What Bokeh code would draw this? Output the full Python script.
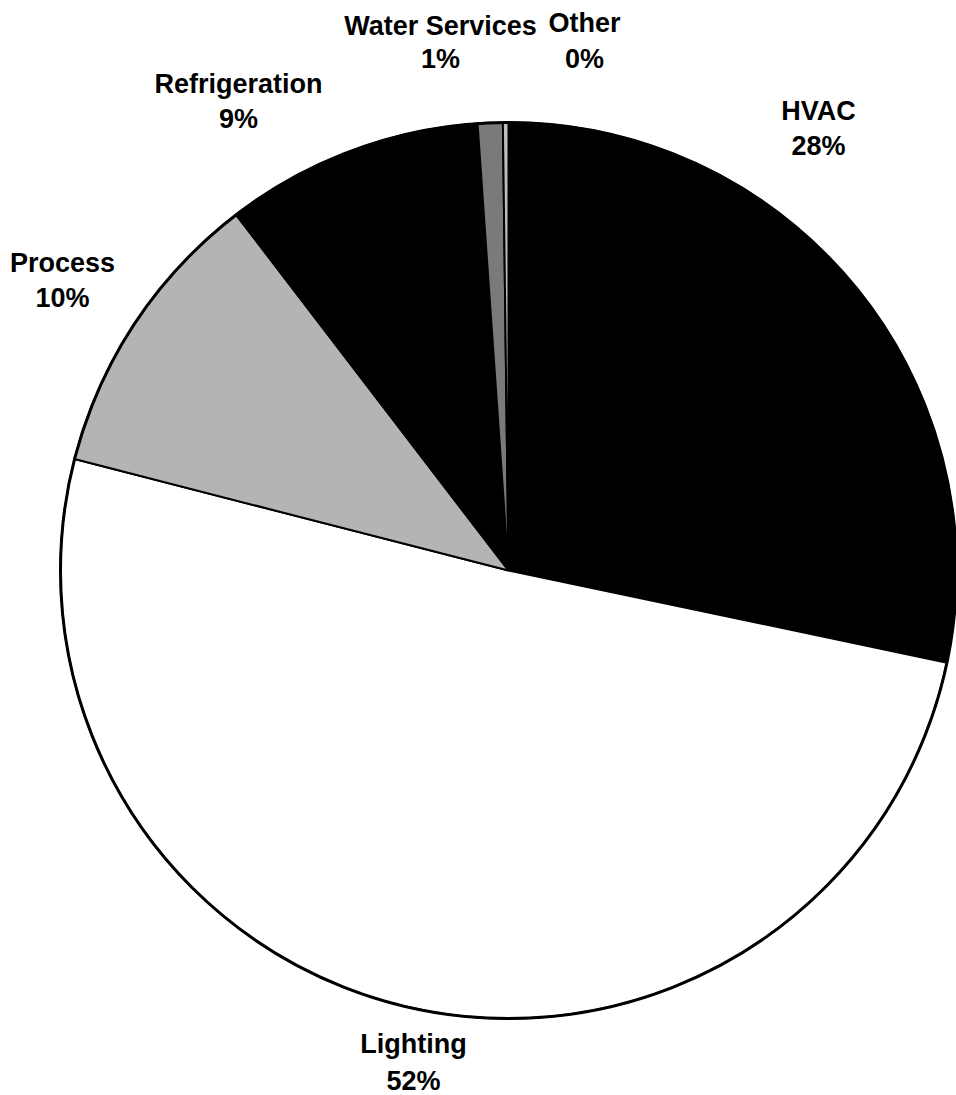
import numpy as np
from bokeh.plotting import figure
from bokeh.models import ColumnDataSource, Range1d
from bokeh.core.properties import value
from bokeh.embed import file_html
from bokeh.resources import INLINE

# ---- data ----
categories = ["HVAC", "Lighting", "Process", "Refrigeration", "Water Services", "Other"]
shares = [28.3, 50.7, 10.6, 9.3, 0.9, 0.2]
pct_labels = ["28%", "52%", "10%", "9%", "1%", "0%"]

# ---- styles / layout ----
slice_colors = ["#000000", "#ffffff", "#b4b4b4", "#000000", "#7a7a7a", "#bdbdbd"]
W, H = 956, 1095
CX, CY, R = 508, 570, 448          # pixel coords (top-left origin)
label_x = [818, 413, 62, 238, 440, 584]
name_y = [110, 1043, 262, 83, 25, 22]
pct_y = [145, 1080, 297, 118, 58, 58]

def fy(y):
    return H - np.asarray(y, dtype=float)

vals = np.array(shares, dtype=float)
frac = vals / vals.sum()
cum = np.concatenate([[0.0], np.cumsum(frac)])
start = np.pi / 2 - cum[:-1] * 2 * np.pi
end = np.pi / 2 - cum[1:] * 2 * np.pi

src = ColumnDataSource(dict(cat=categories, start=start, end=end, color=slice_colors))

p = figure(width=W, height=H, x_range=Range1d(0, W), y_range=Range1d(0, H),
           output_backend="svg", toolbar_location=None, min_border=0)
p.axis.visible = False
p.grid.visible = False
p.outline_line_color = None
p.background_fill_color = "white"

p.wedge(x=CX, y=float(fy(CY)), radius=R, start_angle="start", end_angle="end",
        direction="clock", fill_color="color", line_color="black", line_width=2,
        source=src)
# outer rim
p.circle(x=CX, y=float(fy(CY)), radius=R, fill_color=None, line_color="black", line_width=3)

lab = ColumnDataSource(dict(x=label_x, ny=fy(name_y), py=fy(pct_y),
                            name=categories, pct=pct_labels))
common = dict(text_font=value("Liberation Sans"), text_font_style="bold",
              text_font_size="27px", text_align="center", text_baseline="middle",
              text_color="black", source=lab)
p.text(x="x", y="ny", text="name", **common)
p.text(x="x", y="py", text="pct", **common)

open("out.html", "w").write(file_html(p, INLINE))
